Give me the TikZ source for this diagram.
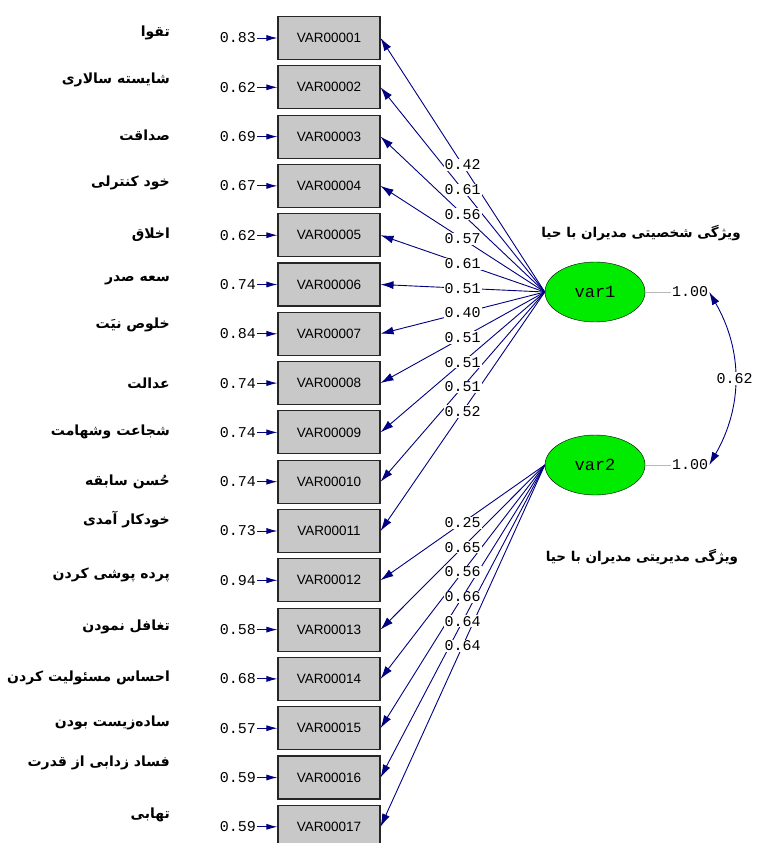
\documentclass[tikz,border=0pt]{standalone}
\usepackage{fontspec}
\setmainfont{Liberation Sans}
\newfontfamily\courier{Liberation Mono}
\newfontfamily\farsi[Script=Arabic]{DejaVu Sans}
\TeXXeTstate=1
\usepackage{xcolor}
\usetikzlibrary{shapes.geometric, arrows.meta, positioning, calc}
\definecolor{pathblue}{RGB}{0,0,128}
\definecolor{boxgray}{RGB}{200,200,200}
\definecolor{latgreen}{RGB}{0,235,0}
\tikzstyle{observed} = [rectangle, minimum width=102pt, minimum height=43pt, draw=black!85, line width=1.1pt, fill=boxgray, inner sep=0pt, font=\fontsize{13.5}{13.5}\selectfont]
\tikzstyle{latent} = [ellipse, minimum width=100pt, minimum height=60pt, draw=black, fill=latgreen, font=\courier\fontsize{17}{17}\selectfont]
\tikzstyle{coef} = [inner sep=1pt, text=black, font=\courier\fontsize{15}{15}\selectfont]
\tikzstyle{loading} = [coef, fill=white]
\tikzstyle{farsilabel} = [anchor=east, inner sep=0pt, font=\farsi\bfseries\fontsize{14}{14}\selectfont]
\tikzstyle{farsititle} = [inner sep=0pt, font=\farsi\bfseries\fontsize{13.5}{13.5}\selectfont]
\tikzstyle{arrow} = [pathblue, line width=0.9pt, -{Latex[length=13pt,width=8pt]}]

\begin{document}
\begin{tikzpicture}[x=1pt, y=-1pt]
\useasboundingbox (0,0) rectangle (757,843);

% observed variables with error variances
\foreach \i/\n/\ev in {1/01/0.83, 2/02/0.62, 3/03/0.69, 4/04/0.67, 5/05/0.62, 6/06/0.74,
    7/07/0.84, 8/08/0.74, 9/09/0.74, 10/10/0.74, 11/11/0.73, 12/12/0.94,
    13/13/0.58, 14/14/0.68, 15/15/0.57, 16/16/0.59, 17/17/0.59}{
  \node[observed] (v\i) at (329, {38+(\i-1)*49.3}) {VAR000\n};
  \node[coef, anchor=east] (e\i) at (257, {38+(\i-1)*49.3}) {\ev};
  \draw[arrow, -{Latex[length=11pt,width=6pt]}] (e\i) -- (v\i);
}

% item names
\foreach \i/\y/\txt in {1/33/{تقوا}, 2/80/{شایسته سالاری}, 3/135/{صداقت},
    4/183/{خود کنترلی}, 5/235/{اخلاق}, 6/280/{سعه صدر}, 7/325/{خلوص نیَت},
    8/383/{عدالت}, 9/432/{شجاعت وشهامت}, 10/482/{حُسن سابقه},
    11/520/{خودکار آمدی}, 12/575/{پرده پوشی کردن}, 13/627/{تغافل نمودن},
    14/678/{احساس مسئولیت کردن}, 15/723/{ساده^^^^200cزیست بودن},
    16/763/{فساد زدابی از قدرت}, 17/815/{تهابی}}{
  \node[farsilabel] (p\i) at (170,\y) {\beginR\txt\endR};
}

% latent variables
\node[latent] (var1) at (595,292) {var1};
\node[latent] (var2) at (595,465) {var2};
\node[farsititle] (t1) at (641,233) {\beginR ویژگی شخصیتی مدیران با حیا\endR};
\node[farsititle] (t2) at (642,557) {\beginR ویژگی مدیریتی مدیران با حیا\endR};

% loadings
\foreach \i in {1,...,11}
  \draw[arrow] (var1.west) -- (v\i.east);
\foreach \i in {12,...,17}
  \draw[arrow] (var2.west) -- (v\i.east);
\foreach \i/\c in {1/0.42, 2/0.61, 3/0.56, 4/0.57, 5/0.61, 6/0.51, 7/0.40,
    8/0.51, 9/0.51, 10/0.51, 11/0.52}
  \path (var1.west) -- (v\i.east) node[loading, midway] (a\i) {\c};
\foreach \i/\c in {12/0.25, 13/0.65, 14/0.56, 15/0.66, 16/0.64, 17/0.64}
  \path (var2.west) -- (v\i.east) node[loading, midway] (a\i) {\c};

% variances and covariance
\node[coef] (var1v) at (690,292) {1.00};
\node[coef] (var2v) at (690,465) {1.00};
\draw[gray!55, line width=0.5pt] (var1.east) -- (var1v.west);
\draw[gray!55, line width=0.5pt] (var2.east) -- (var2v.west);
\draw[arrow, {Latex[length=13pt,width=8pt]}-{Latex[length=13pt,width=8pt]}]
  (var1v.east) to[out=-60, in=60] node[loading] (cov) {0.62} (var2v.east);
\end{tikzpicture}
\end{document}
